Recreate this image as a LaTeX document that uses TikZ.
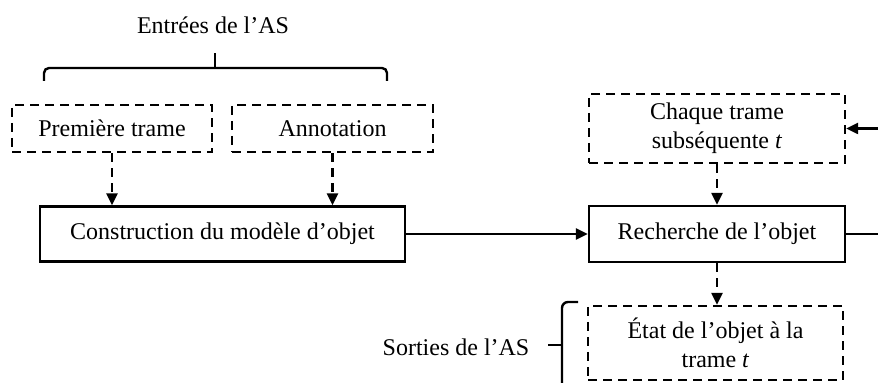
\documentclass[tikz,border=0pt]{standalone}
\usepackage{fontspec}
\setmainfont{Liberation Serif}
\usetikzlibrary{arrows.meta}
\begin{document}
\begin{tikzpicture}[x=0.5pt,y=-0.5pt,line width=1.2pt,
  txt/.style={font=\fontsize{12}{14.5}\selectfont},
  dbox/.style={txt,draw,dash pattern=on 4.5pt off 3pt,inner sep=0pt,align=center},
  sbox/.style={txt,draw,inner sep=0pt,align=center},
  arr/.style={-{Triangle[length=6pt,width=5.5pt]}},
  darr/.style={arr,dash pattern=on 4.5pt off 3pt}]
\useasboundingbox (0,0) rectangle (878,383);
\clip (0,0) rectangle (878,383);
\node[dbox,minimum width=100pt,minimum height=23.5pt] (prem) at (112,128.5) {Première trame};
\node[dbox,minimum width=100.5pt,minimum height=23.5pt] (anno) at (332.5,128.5) {Annotation};
\node[sbox,minimum width=182.5pt,minimum height=27.5pt] (cons) at (222.5,234) {Construction du modèle d’objet};
\node[sbox,minimum width=128pt,minimum height=28pt] (rech) at (717,234) {Recherche de l’objet};
\node[dbox,minimum width=128pt,minimum height=34.5pt] (chaq) at (717,128.5) {Chaque trame\\subséquente \textit{t}};
\node[dbox,minimum width=127.5pt,minimum height=37pt] (etat) at (715.5,343) {État de l’objet à la\\trame \textit{t}};
\node[txt] (inlab) at (213,25) {Entrées de l’AS};
\node[txt] (outlab) at (456,347) {Sorties de l’AS};
\coordinate (loopr) at (905,128.5);
\draw[darr] (prem.south) -- (prem.south |- cons.north);
\draw[darr] (anno.south) -- (anno.south |- cons.north);
\draw[arr] (cons.east) -- (rech.west);
\draw[darr] (chaq.south) -- (rech.north);
\draw[darr] (rech.south) -- (rech.south |- etat.north);
\draw[arr] (rech.east) -| (loopr) -- (chaq.east);
% top brace
\draw[rounded corners=2.5pt] (44,81) -- (44,68) -- (387,68) -- (387,81);
\draw (215,68) -- (215,53);
% left brace
\draw[rounded corners=3pt] (578,302) -- (562,302) -- (562,395);
\draw (548,345) -- (562,345);
\end{tikzpicture}
\end{document}
